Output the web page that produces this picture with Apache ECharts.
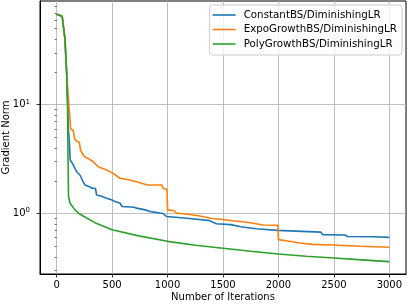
<!DOCTYPE html>
<html>
<head>
<meta charset="utf-8">
<script src="https://cdn.jsdelivr.net/npm/echarts@6/dist/echarts.min.js"></script>
<style>html,body{margin:0;padding:0;background:#fff}#c{width:407px;height:304px}</style>
</head>
<body>
<div id="c"></div>
<script>
const seriesNames = ['ConstantBS/DiminishingLR', 'ExpoGrowthBS/DiminishingLR', 'PolyGrowthBS/DiminishingLR'];
const xTicks = [0, 500, 1000, 1500, 2000, 2500, 3000];
const yMajorTicks = [1, 10];
const yMinorTicks = [0.3, 0.4, 0.5, 0.6, 0.7, 0.8, 0.9, 2, 3, 4, 5, 6, 7, 8, 9, 20, 30, 40, 50, 60, 70, 80];

const constantBS = [[0,68],[50,65],[75,40],[90,20],[100,10],[105,6.0],[115,4.6],[122,3.1],[150,2.8],[165,2.6],[180,2.42],[210,2.26],[235,2.0],[255,1.83],[300,1.75],[320,1.71],[350,1.70],[360,1.48],[400,1.45],[450,1.38],[500,1.33],[525,1.29],[570,1.25],[590,1.16],[700,1.14],[720,1.12],[800,1.08],[850,1.04],[930,1.01],[960,1.0],[990,0.94],[1100,0.92],[1200,0.90],[1210,0.875],[1380,0.86],[1400,0.84],[1440,0.805],[1570,0.79],[1580,0.76],[1660,0.755],[1670,0.735],[1800,0.725],[1810,0.71],[1990,0.70],[2000,0.685],[2380,0.675],[2400,0.64],[2600,0.635],[2620,0.615],[2850,0.612],[2860,0.605],[3000,0.603]];
const expoGrowthBS = [[0,68],[50,65],[75,40],[90,20],[100,14],[104,14],[114,8.9],[126,6.0],[150,5.8],[160,5.0],[170,4.7],[205,4.5],[215,3.83],[240,3.45],[255,3.3],[285,3.21],[330,2.99],[375,2.69],[450,2.51],[510,2.34],[570,2.11],[660,2.03],[720,1.96],[765,1.90],[820,1.83],[950,1.83],[960,1.70],[995,1.67],[1000,1.08],[1060,1.06],[1080,1.01],[1200,0.98],[1210,0.97],[1290,0.95],[1300,0.94],[1380,0.91],[1400,0.90],[1500,0.88],[1580,0.857],[1680,0.84],[1760,0.817],[1860,0.783],[1995,0.78],[2000,0.575],[2100,0.555],[2190,0.535],[2310,0.52],[2490,0.514],[2740,0.50],[2750,0.495],[3000,0.49]];
const polyGrowthBS = [[0,68],[50,65],[75,40],[90,20],[98,10],[103,3],[107,1.45],[120,1.25],[165,1.08],[200,1.0],[270,0.91],[350,0.82],[500,0.71],[750,0.62],[1000,0.555],[1250,0.51],[1500,0.48],[1750,0.45],[2000,0.425],[2250,0.405],[2500,0.39],[2750,0.375],[3000,0.361]];

const colors = ['#1f77b4', '#ff7f0e', '#2ca02c'];
const chart = echarts.init(document.getElementById('c'), null, {renderer: 'canvas'});
const font = 'DejaVu Sans';
const gridColor = '#b0b0b0';

const mkSeries = (name, data, i) => ({
  name, type: 'line', data, symbol: 'none', showSymbol: false, smooth: false,
  xAxisIndex: 0, yAxisIndex: 0,
  lineStyle: {width: 1.6, color: colors[i]}, itemStyle: {color: colors[i]},
  emphasis: {disabled: true}, animation: false
});

chart.setOption({
  animation: false,
  textStyle: {fontFamily: font},
  grid: {left: 40, right: 1, top: 1, bottom: 30, containLabel: false, outerBoundsMode: 'none',
         show: true, borderColor: '#000', borderWidth: 1, backgroundColor: 'transparent'},
  legend: {
    orient: 'vertical', right: 5, top: 5,
    data: seriesNames.map(n => ({name: n, icon: 'rect'})),
    itemWidth: 23, itemHeight: 1.6, itemGap: 2.5,
    padding: [4, 5, 5, 3],
    borderColor: '#cccccc', borderWidth: 1, borderRadius: 3,
    backgroundColor: 'rgba(255,255,255,0.8)',
    textStyle: {fontFamily: font, fontSize: 10.3, color: '#000', lineHeight: 12, padding: [0, 0, 0, 3]}
  },
  xAxis: [{
    type: 'value', min: -150, max: 3150,
    name: 'Number of Iterations', nameLocation: 'middle', nameGap: 18, nameMoveOverlap: false,
    nameTextStyle: {fontFamily: font, fontSize: 10, color: '#000'},
    axisLine: {show: true, onZero: false, lineStyle: {color: '#000', width: 1}},
    axisTick: {show: true, length: 3.5, lineStyle: {color: '#000', width: 0.8}, customValues: xTicks},
    axisLabel: {fontFamily: font, fontSize: 10, color: '#000', margin: 6, customValues: xTicks, formatter: v => String(v)},
    splitLine: {show: true, lineStyle: {color: gridColor, width: 0.8}}
  }],
  yAxis: [{
    type: 'log', logBase: 10, min: 0.278, max: 89.8,
    name: 'Gradient Norm', nameLocation: 'middle', nameGap: 29, nameMoveOverlap: false,
    nameTextStyle: {fontFamily: font, fontSize: 10, color: '#000'},
    axisLine: {show: true, onZero: false, lineStyle: {color: '#000', width: 1}},
    axisTick: {show: true, length: 3.5, lineStyle: {color: '#000', width: 0.8}, customValues: yMajorTicks},
    axisLabel: {
      fontFamily: font, fontSize: 10, color: '#000', margin: 10, customValues: yMajorTicks,
      formatter: v => '{b|10}{s|' + Math.round(Math.log10(v)) + '}',
      rich: {b: {fontFamily: font, fontSize: 10, color: '#000'}, s: {fontFamily: font, fontSize: 7, color: '#000', padding: [0, 0, 6, 0]}}
    },
    splitLine: {show: true, lineStyle: {color: gridColor, width: 0.8}},
    minorTick: {show: false}
  }, {
    type: 'log', logBase: 10, min: 0.278, max: 89.8, position: 'left',
    axisLine: {show: false},
    axisTick: {show: true, length: 2, lineStyle: {color: '#000', width: 0.6}, customValues: yMinorTicks},
    axisLabel: {show: false},
    splitLine: {show: false}
  }],
  series: [
    mkSeries(seriesNames[0], constantBS, 0),
    mkSeries(seriesNames[1], expoGrowthBS, 1),
    mkSeries(seriesNames[2], polyGrowthBS, 2)
  ]
});
</script>
</body>
</html>
